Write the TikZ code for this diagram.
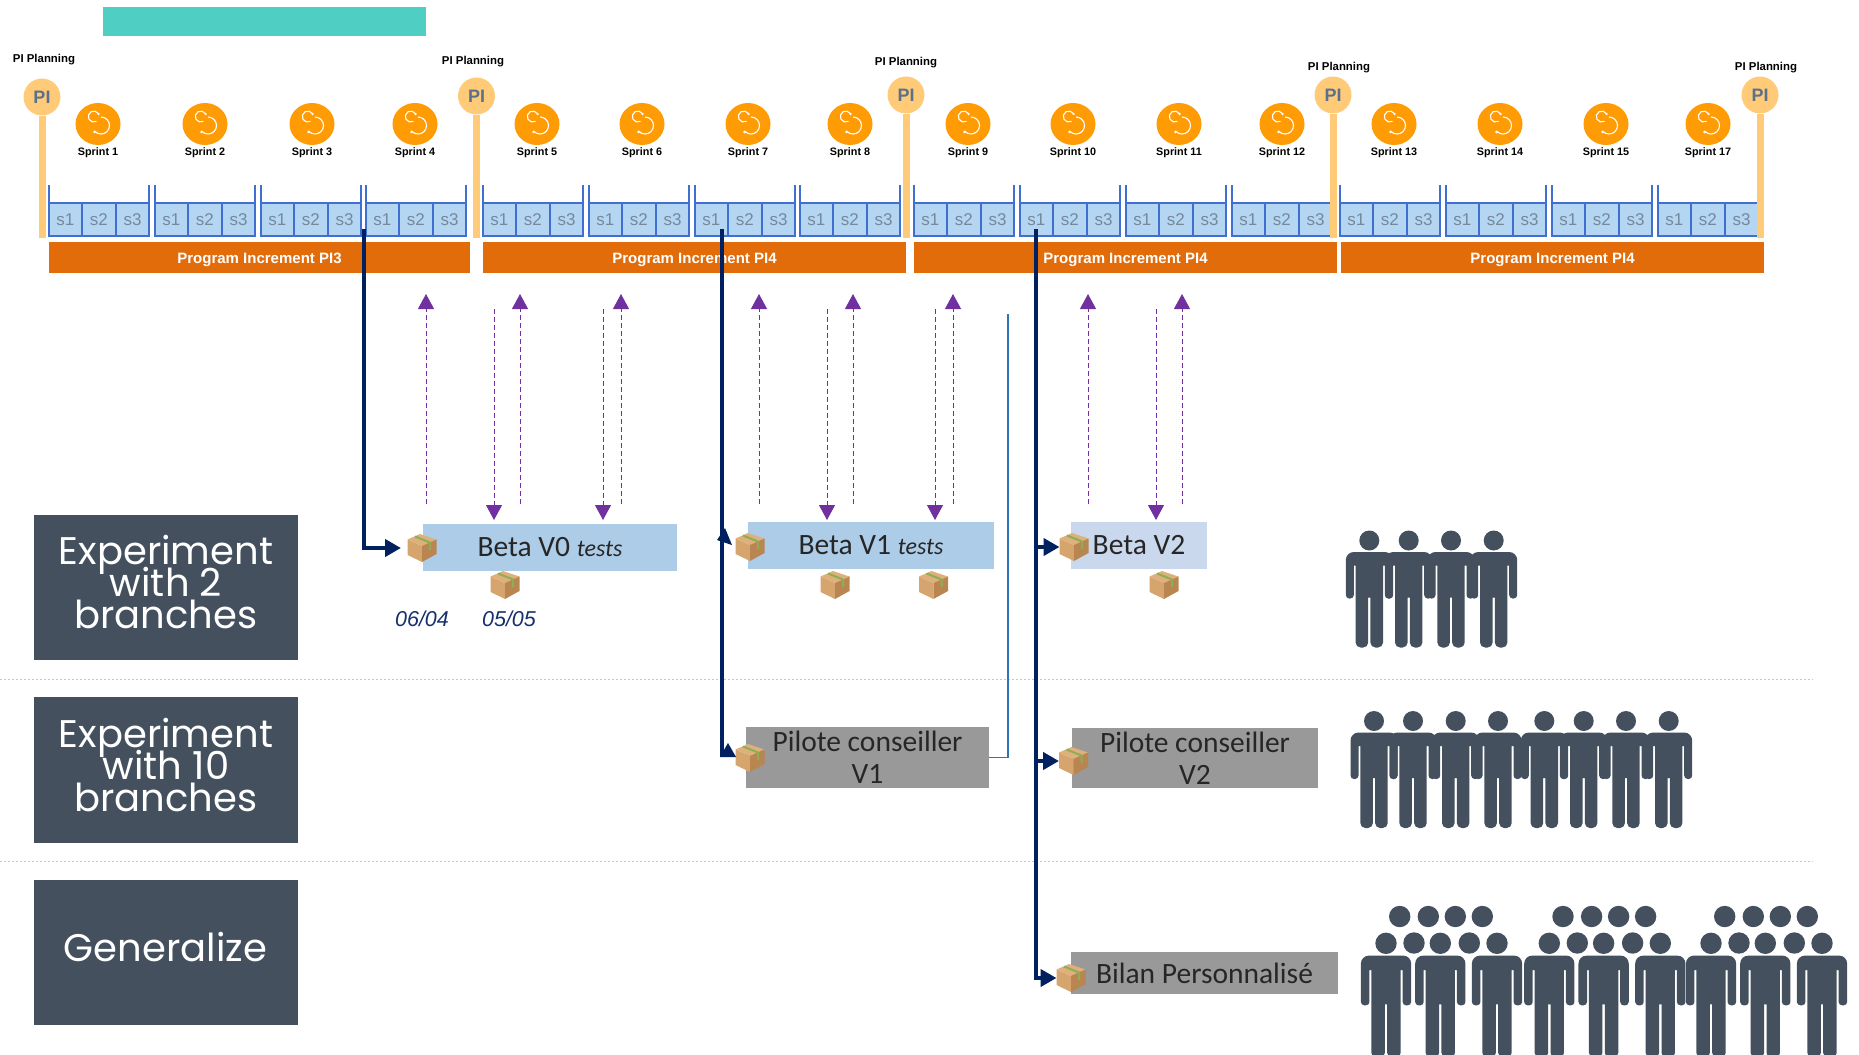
\documentclass[tikz,border=0pt]{standalone}
\usepackage{fontspec}
\setmainfont{Liberation Sans}
\newfontfamily\calfont{Carlito}
\newfontfamily\monfont{Poppins}
\newcommand\stagefont{\monfont\fontsize{38.5}{32}\selectfont\lineskip=0pt\lineskiplimit=-100pt\relax}
\usetikzlibrary{arrows.meta,shapes.geometric}
\definecolor{tealbar}{HTML}{4FCEC3}
\definecolor{pilight}{HTML}{FFCB78}
\definecolor{pitext}{HTML}{5B7089}
\definecolor{sprintorange}{HTML}{FF9B05}
\definecolor{barorange}{HTML}{E36C0A}
\definecolor{cellblue}{HTML}{3F6FD0}
\definecolor{cellfill}{HTML}{B4D6F3}
\definecolor{celltext}{HTML}{76889A}
\definecolor{navyline}{HTML}{002060}
\definecolor{purplearrow}{HTML}{7030A0}
\definecolor{slatebox}{HTML}{44505E}
\definecolor{betablue}{HTML}{ADCCE7}
\definecolor{betalight}{HTML}{C9D8EC}
\definecolor{pilotgray}{HTML}{999999}
\definecolor{datenavy}{HTML}{15306B}
\definecolor{linkblue}{HTML}{2E75B6}
\definecolor{parcelleft}{HTML}{D6A46D}
\definecolor{parceltop}{HTML}{DDB07C}
\definecolor{parcelright}{HTML}{B98550}
\definecolor{parceltape}{HTML}{8EAE55}
\tikzset{
  pibubble/.style={circle,fill=pilight,minimum size=37,inner sep=0,text=pitext,font=\fontsize{18}{18}\selectfont\bfseries},
  pilabel/.style={font=\fontsize{11.4}{12}\selectfont\bfseries,inner sep=0},
  polebar/.style={draw=pilight,line width=7},
  sprintlabel/.style={font=\fontsize{10.8}{12}\selectfont\bfseries,inner sep=0},
  sprintdot/.style={ellipse,fill=sprintorange,minimum width=45,minimum height=42,inner sep=0},
  cell/.style={draw=cellblue,fill=cellfill,line width=1.9,minimum width=33.7,minimum height=33,inner sep=0,outer sep=0,text=celltext,font=\fontsize{17}{17}\selectfont},
  wall/.style={draw=cellblue,line width=1.9},
  pibar/.style={fill=barorange,text=white,minimum height=31,inner sep=0,text height=12,text depth=0,font=\fontsize{15}{15}\selectfont\bfseries},
  navyarrow/.style={draw=navyline,line width=4,-{Triangle[length=16pt,width=17pt]}},
  navyplain/.style={draw=navyline,line width=4},
  testarrow/.style={draw=purplearrow,line width=1,dash pattern=on 5pt off 3pt,-{Triangle[length=15pt,width=16pt]}},
  stagebox/.style={fill=slatebox,minimum width=264,minimum height=145.5,inner sep=0},
  stagetext/.style={text=white,align=center,inner sep=0,font=\stagefont},
  worklabel/.style={text=black!85,align=center,inner sep=0,font=\calfont\fontsize{29.5}{32}\selectfont},
  betabox/.style={worklabel,fill=betablue},
  pilotbox/.style={worklabel,fill=pilotgray},
  datelabel/.style={text=datenavy,inner sep=0,font=\fontsize{21.5}{21.5}\selectfont\itshape},
  parcelspot/.style={minimum width=29,minimum height=29,inner sep=0,outer sep=0},
  sepline/.style={draw=black!22,line width=1,dash pattern=on 2pt off 2pt},
  sprintloop/.pic={
    \draw[white,line width=1.1] (3,-7) arc[start angle=-90,end angle=140,radius=8.5];
    \draw[white,line width=1.1] (-1.5,-2.7) arc[start angle=60,end angle=330,radius=5.5];
    \fill[white] (-3.5,8) circle (1.3) (0.6,-10) circle (1.3);
  },
  parcel/.pic={
    \fill[parcelleft] (-14.5,-8.5) -- (0,-2) -- (0,14) -- (-14.5,7) -- cycle;
    \fill[parceltop] (-14.5,-8.5) -- (-2,-14) -- (14.5,-8.5) -- (0,-2) -- cycle;
    \fill[parcelright] (0,-2) -- (14.5,-8.5) -- (14.5,6) -- (0,14) -- cycle;
    \draw[parceltape,line width=2] (-7,-11.5) -- (8,-5.5) -- (8,2);
  },
  person/.pic={
    \fill[slatebox] (0,0) circle (10);
    \fill[slatebox] (-15.5,25) [rounded corners=3.5] -- (-15.5,58) -- (-23.5,58) [rounded corners=8] -- (-23.5,11.5) -- (23.5,11.5) [rounded corners=3.5] -- (23.5,58) -- (15.5,58) [sharp corners] -- (15.5,25) -- (13.7,25) [rounded corners=5] -- (13.7,107) -- (1.1,107) [sharp corners] -- (1.1,57) -- (-1.1,57) [rounded corners=5] -- (-1.1,107) -- (-13.7,107) [sharp corners] -- (-13.7,25) -- cycle;
  }
}

\begin{document}
\begin{tikzpicture}[x=1pt,y=-1pt]
  \useasboundingbox (0,0) rectangle (1859,1054);
  \clip (0,0) rectangle (1859,1054);

  \fill[tealbar] (103,7) rectangle (426,36);

  \foreach \x/\sx/\sname in {49/98/1,155/205/2,261/312/3,366/415/4,483/537/5,589/642/6,695/748/7,800/850/8,914/968/9,1020/1073/10,1126/1179/11,1232/1282/12,1340/1394/13,1446/1500/14,1552/1606/15,1658/1708/17} {
    \node[sprintdot] (sp\x) at (\sx,124) {};
    \pic at (sp\x) {sprintloop};
    \node[sprintlabel] at (\sx,152.5) {Sprint \sname};
    \node[cell] (ca\x) at ({\x+16.4},219.5) {s1};
    \node[cell] (cb\x) at ({\x+49.9},219.5) {s2};
    \node[cell] (cc\x) at ({\x+83.5},219.5) {s3};
    \draw[wall] (ca\x.north west) -- ++(0,-18);
    \draw[wall] (cc\x.north east) -- ++(0,-18);
  }

  \foreach \x/\y/\ly/\lx [count=\n] in {42/97/60/44,476.5/96/61.5/473,906/95/62.5/906,1333/95/67.5/1339,1760/95/67.5/1766} {
    \node[pibubble] (pi\n) at (\x,\y) {PI};
    \coordinate (pf\n) at (\x,238);
    \draw[polebar] (pi\n) -- (pf\n);
    \node[pilabel] at (\lx,\ly) {PI Planning};
  }

  \node[pibar,minimum width=421] (bar1) at (259.5,257.5) {Program Increment PI3};
  \node[pibar,minimum width=423] (bar2) at (694.5,257.5) {Program Increment PI4};
  \node[pibar,minimum width=423] (bar3) at (1125.5,257.5) {Program Increment PI4};
  \node[pibar,minimum width=423] (bar4) at (1552.5,257.5) {Program Increment PI4};

  \foreach \x in {426,520,621,759,853,953,1088,1182} {
    \coordinate (ua) at (\x,504);
    \coordinate (ub) at (\x,294);
    \draw[testarrow] (ua) -- (ub);
  }
  \foreach \x in {494,603,827,935,1156} {
    \coordinate (da) at (\x,309);
    \coordinate (db) at (\x,520);
    \draw[testarrow] (da) -- (db);
  }

  \draw[sepline] (0,679) -- (1813,679);
  \draw[sepline] (0,861.5) -- (1813,861.5);

  \node[stagebox] (st1) at (165.5,587.25) {};
  \node[stagebox] (st2) at (165.5,770) {};
  \node[stagebox] (st3) at (165.5,952.5) {};
  \node[stagetext] at (166,582) {Experiment\\with 2\\branches};
  \node[stagetext] at (166,765) {Experiment\\with 10\\branches};
  \node[stagetext] at (165.5,947) {Generalize};

  \node[betabox,minimum width=254,minimum height=47] (beta0) at (550,547.5) {Beta V0 {\itshape\fontsize{24}{24}\selectfont tests}};
  \node[betabox,minimum width=246,minimum height=47] (beta1) at (871,545.5) {Beta V1 {\itshape\fontsize{24}{24}\selectfont tests}};
  \node[betabox,fill=betalight,minimum width=136,minimum height=47] (beta2) at (1139,545.5) {Beta V2};
  \node[pilotbox,minimum width=243,minimum height=61] (pilot1) at (867.5,757.5) {Pilote conseiller\\V1};
  \node[pilotbox,minimum width=246,minimum height=60] (pilot2) at (1195,758) {Pilote conseiller\\V2};
  \node[pilotbox,minimum width=267,minimum height=42] (bilan) at (1204.5,973) {Bilan Personnalisé};

  \node[datelabel] (d1) at (422,619) {06/04};
  \node[datelabel] (d2) at (509,619) {05/05};

  \node[parcelspot] (k0) at (422,548) {};
  \node[parcelspot] (k0b) at (505,585) {};
  \node[parcelspot] (k1) at (750,547) {};
  \node[parcelspot] (k1b) at (835,585) {};
  \node[parcelspot] (k1c) at (933.5,585) {};
  \node[parcelspot] (k2) at (1074,547) {};
  \node[parcelspot] (k2b) at (1164,585) {};
  \node[parcelspot] (k3) at (750,758) {};
  \node[parcelspot] (k4) at (1073.5,761) {};
  \node[parcelspot] (k5) at (1071,978) {};
  \foreach \k in {k0,k0b,k1,k1b,k1c,k2,k2b,k3,k4,k5} {
    \pic at (\k) {parcel};
  }

  \coordinate (n1) at (363.5,229);
  \coordinate (n2) at (722,229);
  \coordinate (n2b) at (722,757);
  \coordinate (n3) at (1036,229);
  \coordinate (t1) at (1008,314);
  \draw[linkblue,line width=1.5] (pilot1.east) -| (t1);
  \draw[navyarrow,shorten >=6.5pt] (n1) |- (k0.west);
  \draw[navyplain] (n2) -- (n2b);
  \fill[navyline] (725,528) -- (717,540) -- (732,545) -- cycle;
  \fill[navyline] (728,743) -- (720,757) -- (736,757) -- cycle;
  \draw[navyarrow] (n3) |- (k2.west);
  \draw[navyarrow] (n3) |- (k4.west);
  \draw[navyarrow] (n3) |- (k5.west);

  \foreach \x in {1369.3,1408.7,1451,1493.7} {
    \pic at (\x,540.5) {person};
  }
  \foreach \x in {1374,1413,1455.7,1498,1544.3,1583.7,1626,1668.7} {
    \pic at (\x,721) {person};
  }
  \foreach \dx in {0,163.3,325} {
    \begin{scope}[xshift=\dx]
      \foreach \x in {1399.7,1428.3,1455.3,1482.3} {
        \fill[slatebox] (\x,916.5) circle (10.7);
      }
      \foreach \x in {1414,1469.3} {
        \fill[slatebox] (\x,943) circle (10.7);
      }
      \foreach \x in {1386,1440.3,1497} {
        \pic[scale=1.07] at (\x,943.3) {person};
      }
    \end{scope}
  }
\end{tikzpicture}
\end{document}
